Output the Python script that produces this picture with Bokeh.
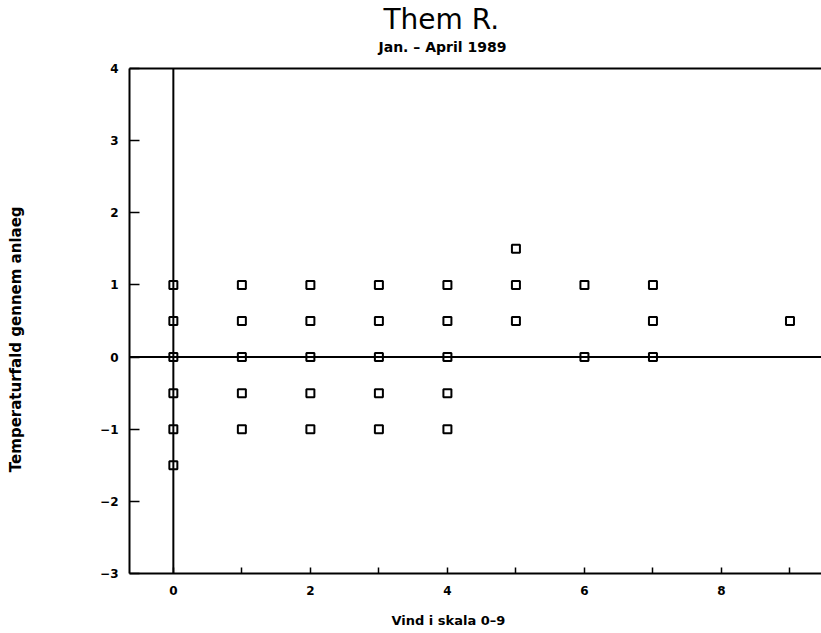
from bokeh.plotting import figure
from bokeh.models import Range1d, FixedTicker, LinearAxis, Span, Title
from bokeh.embed import file_html
from bokeh.resources import INLINE

# Data
wind = [0, 0, 0, 0, 0, 0,
        1, 1, 1, 1, 1,
        2, 2, 2, 2, 2,
        3, 3, 3, 3, 3,
        4, 4, 4, 4, 4,
        5, 5, 5,
        6, 6,
        7, 7, 7,
        9]
temp_drop = [1, 0.5, 0, -0.5, -1, -1.5,
             1, 0.5, 0, -0.5, -1,
             1, 0.5, 0, -0.5, -1,
             1, 0.5, 0, -0.5, -1,
             1, 0.5, 0, -0.5, -1,
             1.5, 1, 0.5,
             1, 0,
             1, 0.5, 0,
             0.5]

x_ticks = [0, 1, 2, 3, 4, 5, 6, 7, 8, 9]
x_tick_labels = {0: "0", 1: "", 2: "2", 3: "", 4: "4", 5: "", 6: "6", 7: "", 8: "8", 9: ""}
y_ticks = [-3, -2, -1, 0, 1, 2, 3, 4]
y_tick_labels = {-3: "\u22123", -2: "\u22122", -1: "\u22121", 0: "0", 1: "1", 2: "2", 3: "3", 4: "4"}

title_text = "Them R."
subtitle_text = "Jan. \u2013 April 1989"
x_label = "Vind i skala 0\u20139"
y_label = "Temperaturfald gennem anlaeg"

FONT = "DejaVu Sans"
NBSP = "\u00a0"

p = figure(width=821, height=633, output_backend="svg", toolbar_location=None,
           x_range=Range1d(-0.64, 9.46), y_range=Range1d(-3, 4),
           title_location=None,
           min_border_left=129, min_border_right=0, min_border_top=68, min_border_bottom=60)
p.grid.visible = False
p.outline_line_color = None
p.background_fill_color = "white"
p.border_fill_color = "white"

# bottom axis
xa = p.xaxis[0]
xa.ticker = FixedTicker(ticks=x_ticks, minor_ticks=[])
xa.major_label_overrides = x_tick_labels
xa.major_tick_in = 6
xa.major_tick_out = 0
xa.minor_tick_in = 0
xa.minor_tick_out = 0
xa.axis_line_width = 2
xa.major_tick_line_width = 1.5
xa.major_label_standoff = 12
xa.major_label_text_font = FONT
xa.major_label_text_font_style = "bold"
xa.major_label_text_font_size = "12px"
xa.major_label_text_color = "black"
xa.axis_label = x_label + NBSP * 12
xa.axis_label_text_font = FONT
xa.axis_label_text_font_style = "bold"
xa.axis_label_text_font_size = "13px"
xa.axis_label_text_color = "black"
xa.axis_label_standoff = 15

# left axis
ya = p.yaxis[0]
ya.ticker = FixedTicker(ticks=y_ticks, minor_ticks=[])
ya.major_label_overrides = y_tick_labels
ya.major_tick_in = 10
ya.major_tick_out = 0
ya.minor_tick_in = 0
ya.minor_tick_out = 0
ya.axis_line_width = 2
ya.major_tick_line_width = 1.5
ya.major_label_standoff = 11
ya.major_label_text_font = FONT
ya.major_label_text_font_style = "bold"
ya.major_label_text_font_size = "12px"
ya.major_label_text_color = "black"
ya.axis_label = y_label + NBSP * 7
ya.axis_label_text_font = FONT
ya.axis_label_text_font_style = "bold"
ya.axis_label_text_font_size = "15px"
ya.axis_label_text_color = "black"
ya.axis_label_standoff = 72

# top border line as an axis; one hidden tick reserves space above the frame
top = LinearAxis(ticker=FixedTicker(ticks=[0], minor_ticks=[]),
                 major_label_overrides={0: ""},
                 major_tick_in=0, major_tick_out=13, minor_tick_in=0, minor_tick_out=0,
                 major_tick_line_color=None, major_label_standoff=0,
                 major_label_text_font_size="0px", axis_line_width=2)
p.add_layout(top, "above")

# zero lines
p.add_layout(Span(location=0, dimension="height", line_color="black", line_width=2))
p.add_layout(Span(location=0, dimension="width", line_color="black", line_width=2))

p.scatter(wind, temp_drop, marker="square", size=8, line_color="black",
          line_width=2, fill_color="white")

sub = Title(text=subtitle_text, align="left", offset=249, text_font=FONT,
            text_font_style="bold", text_font_size="14px", text_color="black", standoff=2)
p.add_layout(sub, "above")
main = Title(text=title_text, align="left", offset=254, text_font=FONT,
             text_font_style="normal", text_font_size="28px", text_color="black", standoff=0)
p.add_layout(main, "above")

open("out.html", "w").write(file_html(p, INLINE))
